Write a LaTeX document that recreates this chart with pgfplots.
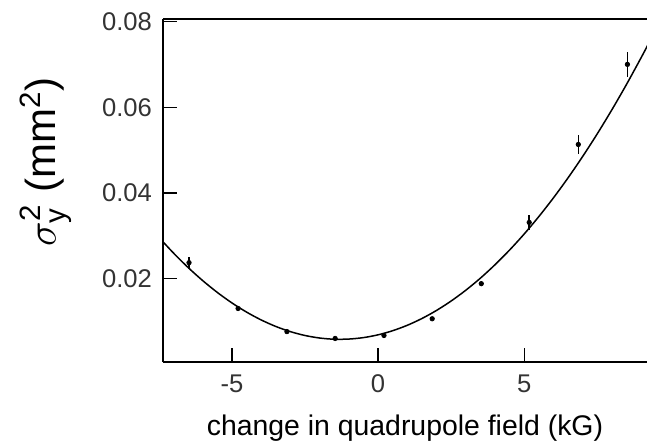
\documentclass[border=0pt]{standalone}
\usepackage{fontspec}
\setmainfont{Liberation Sans}
\usepackage{pgfplots}
\pgfplotsset{compat=1.18}

\pgfplotstableread{
x      y       e
-6.47  0.0237  0.0014
-4.79  0.0130  0.0004
-3.12  0.0076  0.0002
-1.47  0.0060  0.0002
 0.20  0.0067  0.0002
 1.85  0.0106  0.0003
 3.53  0.0188  0.0005
 5.17  0.0331  0.0017
 6.85  0.0513  0.0023
 8.53  0.0700  0.0030
}\meas

\begin{document}
\begin{tikzpicture}
\useasboundingbox (-81.5pt,-42pt) rectangle (242pt,181pt);
\begin{axis}[
  scale only axis, width=242pt, height=171.5pt,
  xmin=-7.36, xmax=9.2, ymin=0.0005, ymax=0.0806,
  axis x line=box, axis y line=left,
  axis line style={-, line width=0.7pt},
  xtick pos=left, tick align=inside, major tick length=7pt,
  tick style={line width=0.7pt, black},
  scaled y ticks=false,
  xtick={-5,0,5}, xticklabels={-5,0,5},
  ytick={0.02,0.04,0.06,0.08}, yticklabels={0.02,0.04,0.06,0.08},
  ticklabel style={font=\fontsize{12.8}{15}\selectfont, text=black!80},
  xticklabel style={yshift=-3pt},
  yticklabel style={xshift=-2pt},
  xlabel={change in quadrupole field (kG)},
  xlabel style={font=\fontsize{14.2}{17}\selectfont, yshift=-4pt},
  ylabel={$\sigma_{\mathrm{y}}^{\mathrm{2}}$ (mm$^{\mathrm{2}}$)},
  ylabel style={font=\fontsize{21}{25}\selectfont, anchor=north,
                at={([xshift=-75pt]rel axis cs:0,0.583)}},
]
% fitted parabola
\addplot[black, line width=0.75pt, smooth] coordinates {
  (-7.4,0.02887) (-7.0,0.02594) (-6.5,0.02256) (-6.0,0.01950)
  (-5.5,0.01674) (-5.0,0.01429) (-4.5,0.01215) (-4.0,0.01032)
  (-3.5,0.00880) (-3.0,0.00759) (-2.5,0.00669) (-2.0,0.00610)
  (-1.5,0.00582) (-1.0,0.00586) (-0.5,0.00620) (0.0,0.00685)
  (0.5,0.00781) (1.0,0.00908) (1.5,0.01066) (2.0,0.01255)
  (2.5,0.01475) (3.0,0.01726) (3.5,0.02008) (4.0,0.02322)
  (4.5,0.02666) (5.0,0.03041) (5.5,0.03447) (6.0,0.03884)
  (6.5,0.04352) (7.0,0.04851) (7.5,0.05381) (8.0,0.05942)
  (8.5,0.06534) (9.0,0.07158) (9.3,0.07546)
};
% measurements
\addplot[only marks, mark=*, mark size=1.1pt, black,
  error bars/.cd, y dir=both, y explicit, error mark=none,
  error bar style={line width=0.8pt}]
  table[x=x, y=y, y error=e] {\meas};
\end{axis}
\end{tikzpicture}
\end{document}
